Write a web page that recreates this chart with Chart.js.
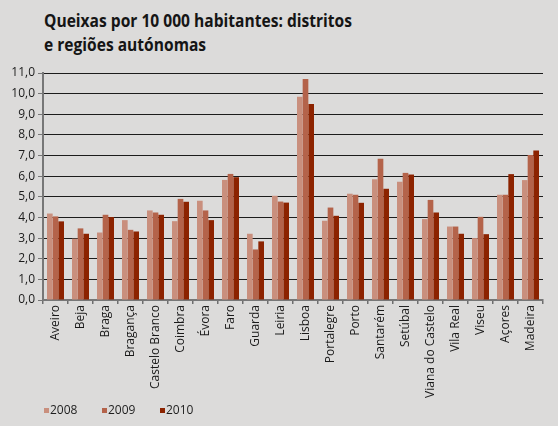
<!DOCTYPE html>
<html lang="pt">
<head>
<meta charset="utf-8">
<script src="https://cdn.jsdelivr.net/npm/chart.js@4.4.1/dist/chart.umd.min.js"></script>
<style>
  html, body { margin: 0; padding: 0; background: #dcdbda; }
  #wrap { position: relative; width: 558px; height: 426px; overflow: hidden; }
  #title {
    position: absolute; left: 44px; top: 9px;
    font-family: "Open Sans", sans-serif; font-weight: 700; font-size: 17px;
    line-height: 24px; color: #151515; white-space: nowrap;
    transform-origin: 0 0;
  }
  #queixas { position: absolute; left: 0; top: 0; }
</style>
</head>
<body>
<div id="wrap">
  <div id="title"><span>Queixas por 10 000 habitantes: distritos</span><br><span>e regiões autónomas</span></div>
  <canvas id="queixas" width="558" height="426"></canvas>
</div>
<script>
// Queixas por 10 000 habitantes, por distrito / região autónoma
const categories = [
  "Aveiro", "Beja", "Braga", "Bragança", "Castelo Branco", "Coimbra", "Évora",
  "Faro", "Guarda", "Leiria", "Lisboa", "Portalegre", "Porto", "Santarém",
  "Setúbal", "Viana do Castelo", "Vila Real", "Viseu", "Açores", "Madeira"
];
const years = ["2008", "2009", "2010"];
const values2008 = [4.19, 2.97, 3.27, 3.87, 4.34, 3.82, 4.81, 5.82, 3.21, 5.05, 9.85, 3.84, 5.15, 5.85, 5.73, 3.92, 3.56, 3.00, 5.10, 5.81];
const values2009 = [4.05, 3.47, 4.13, 3.40, 4.24, 4.90, 4.34, 6.11, 2.45, 4.77, 10.71, 4.48, 5.10, 6.85, 6.16, 4.85, 3.56, 4.03, 5.10, 7.03];
const values2010 = [3.81, 3.21, 4.02, 3.32, 4.13, 4.76, 3.87, 5.95, 2.84, 4.72, 9.50, 4.08, 4.71, 5.39, 6.08, 4.24, 3.21, 3.19, 6.10, 7.24];
const yTickValues = [0, 1, 2, 3, 4, 5, 6, 7, 8, 9, 10, 11];

const COLORS = ["#c98f7d", "#b4634a", "#8c2300"];
const FONT = "'Open Sans', sans-serif";

// squeeze the heading to the condensed width of the printed title
(function fitTitle() {
  const el = document.getElementById("title");
  const first = el.querySelector("span");
  const w = first.getBoundingClientRect().width;
  if (w > 0) el.style.transform = "scaleX(" + (308 / w) + ")";
})();

// small square legend drawn under the axis labels
const squareLegend = {
  id: "squareLegend",
  afterDraw(chart) {
    const ctx = chart.ctx;
    ctx.save();
    ctx.font = "12px " + FONT;
    ctx.textBaseline = "middle";
    chart.data.datasets.forEach((ds, i) => {
      const x = 44 + i * 58;
      const y = 411;
      ctx.fillStyle = ds.backgroundColor;
      ctx.fillRect(x, y - 3, 5, 5);
      ctx.fillStyle = "#1e1e1e";
      ctx.fillText(ds.label, x + 6, y);
    });
    ctx.restore();
  }
};

const datasets = [values2008, values2009, values2010].map((vals, i) => ({
  label: years[i],
  data: vals,
  backgroundColor: COLORS[i],
  borderWidth: 0,
  categoryPercentage: 0.68,
  barPercentage: 1.0
}));

new Chart(document.getElementById("queixas"), {
  type: "bar",
  data: { labels: categories, datasets },
  plugins: [squareLegend],
  options: {
    responsive: false,
    animation: false,
    layout: { padding: { left: 0, right: 15, top: 73, bottom: 0 } },
    plugins: {
      legend: { display: false },
      tooltip: { enabled: false }
    },
    scales: {
      x: {
        afterFit(scale) { scale.height = 126; },
        grid: {
          drawOnChartArea: false,
          drawTicks: true,
          tickLength: 4,
          tickColor: "#6e6e6e",
          lineWidth: 1.5
        },
        border: { color: "#777", width: 2 },
        ticks: {
          minRotation: 90,
          maxRotation: 90,
          autoSkip: false,
          padding: 1,
          color: "#1a1a1a",
          font: { family: FONT, size: 12 }
        }
      },
      y: {
        min: 0,
        max: 11,
        afterFit(scale) { scale.width = 43; },
        afterBuildTicks(scale) { scale.ticks = yTickValues.map(v => ({ value: v })); },
        grid: {
          color: "#1c1c1c",
          lineWidth: 1,
          drawTicks: true,
          tickLength: 5,
          tickColor: "#777"
        },
        border: { color: "#777", width: 2 },
        ticks: {
          padding: 3,
          color: "#1a1a1a",
          font: { family: FONT, size: 12 },
          callback: (v) => v.toFixed(1).replace(".", ",")
        }
      }
    }
  }
});
</script>
</body>
</html>
